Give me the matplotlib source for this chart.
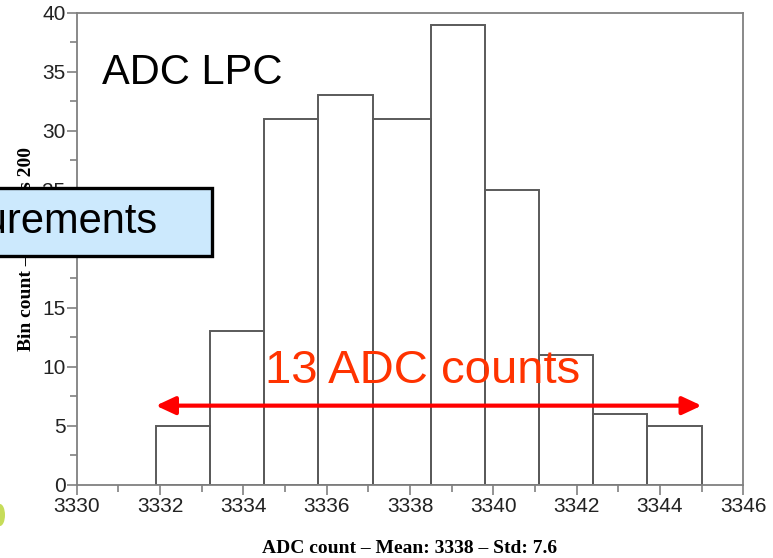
import numpy as np
import matplotlib.pyplot as plt
from matplotlib.patches import Rectangle, Ellipse

# histogram data
bin_edges = [3331.9, 3333.2, 3334.5, 3335.8, 3337.1, 3338.5, 3339.8, 3341.1, 3342.4, 3343.7, 3345.0]
bin_counts = [5, 13, 31, 33, 31, 39, 25, 11, 6, 5]
x_ticks = [3330, 3332, 3334, 3336, 3338, 3340, 3342, 3344, 3346]
y_ticks = [0, 5, 10, 15, 20, 25, 30, 35, 40]
arrow_span = (3331.9, 3345.0)
arrow_y = 6.7

W, H = 773, 558
fig = plt.figure(figsize=(W / 100, H / 100), dpi=100)
ax = fig.add_axes([76.7 / W, 1 - 484.7 / H, (743.3 - 76.7) / W, (484.7 - 12.7) / H])

# bars
widths = np.diff(bin_edges)
ax.bar(bin_edges[:-1], bin_counts, width=widths, align='edge', fill=False,
       edgecolor='#5a5a5a', linewidth=1.4, zorder=2)

ax.set_xlim(3330, 3346)
ax.set_ylim(0, 40)
ax.set_xticks(x_ticks)
ax.set_xticks(np.arange(3331, 3346, 2), minor=True)
ax.set_yticks(y_ticks)
ax.set_yticks(np.arange(2.5, 40, 5), minor=True)
ax.tick_params(which='major', direction='out', length=7, width=1.2, color='#808080',
               labelsize=15, labelcolor='#222222')
ax.tick_params(which='minor', direction='out', length=5, width=1.2, color='#808080')
ax.tick_params(axis='x', pad=2)
ax.tick_params(axis='y', pad=1)
for lbl in ax.get_xticklabels() + ax.get_yticklabels():
    lbl.set_fontfamily('Liberation Sans')
for side in ['left', 'bottom', 'top', 'right']:
    ax.spines[side].set_color('#808080')
    ax.spines[side].set_linewidth(1.3)

ax.set_xlabel('ADC count \u2013 Mean: 3338 \u2013 Std: 7.6', fontfamily='Liberation Serif',
              fontweight='bold', fontsize=14, labelpad=17)
ax.set_ylabel('Bin count \u2013 Samples 200', fontfamily='Liberation Serif',
              fontweight='bold', fontsize=14, labelpad=5)

# annotations
ax.text(0.0375, 0.849, 'ADC LPC', transform=ax.transAxes, fontfamily='Liberation Sans',
        fontsize=30, color='black', va='baseline', ha='left')

ax.annotate('', xy=(arrow_span[1], arrow_y), xytext=(arrow_span[0], arrow_y),
            arrowprops=dict(arrowstyle='<|-|>,head_length=0.58,head_width=0.27',
                            color='#ff0000', lw=3, mutation_scale=20,
                            shrinkA=0, shrinkB=0), zorder=4)
ax.text(265 / W, 1 - 383 / H, '13 ADC counts', transform=fig.transFigure,
        fontfamily='Liberation Sans', fontsize=34, color='#ff3300',
        ha='left', va='baseline', zorder=5)

# light blue box on the left, cut by the figure edge
fig.patches.append(Rectangle((-20 / W, 1 - 256 / H), 232 / W, 68 / H,
                             transform=fig.transFigure, facecolor='#cce9fd',
                             edgecolor='black', linewidth=2.4, zorder=5))
fig.text(157 / W, 1 - 233 / H, '200 measurements', fontfamily='Liberation Sans',
         fontsize=30, color='black', ha='right', va='baseline', zorder=6)

# small green fragment at the bottom left edge
fig.patches.append(Ellipse((0, 1 - 515 / H), 10 / W, 22 / H, transform=fig.transFigure,
                           facecolor='#b8d430', edgecolor='none', alpha=0.8))

fig.savefig('out.png', dpi=100)
